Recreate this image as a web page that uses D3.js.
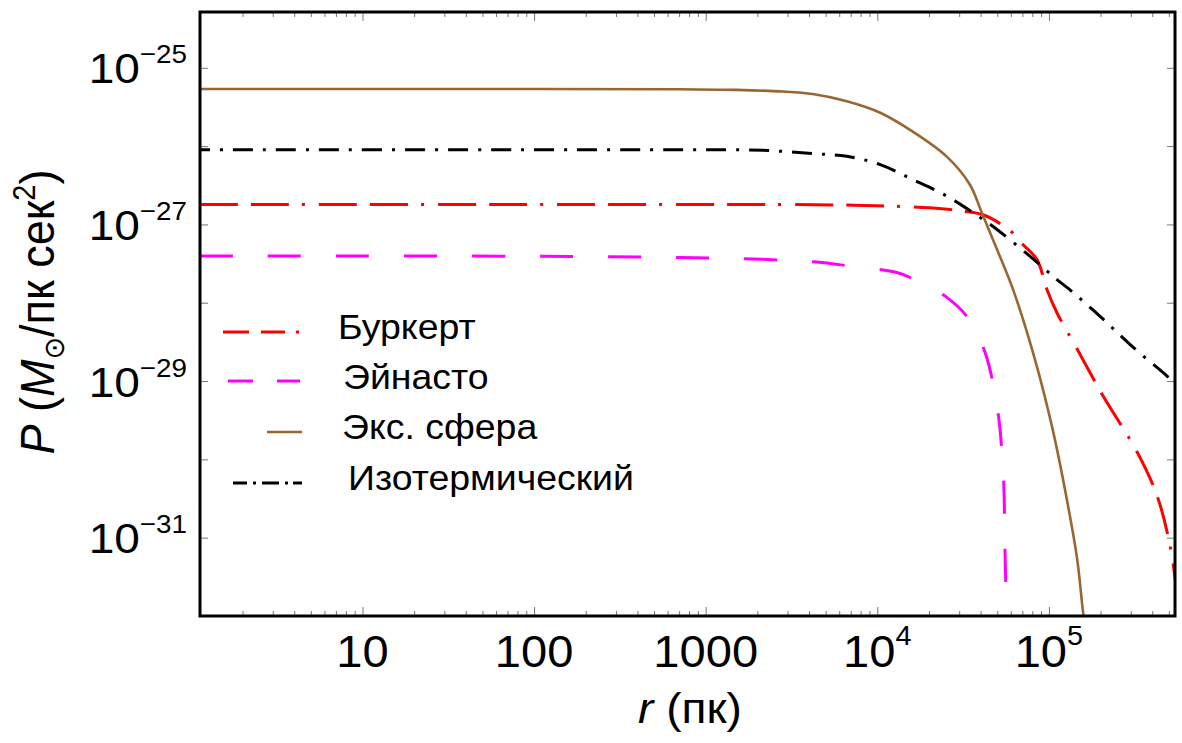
<!DOCTYPE html>
<html>
<head>
<meta charset="utf-8">
<script src="https://cdn.jsdelivr.net/npm/d3@7"></script>
<style>
  body { margin: 0; background: #fff; }
  svg { display: block; }
  text { font-family: "Liberation Sans", Arial, "DejaVu Sans", sans-serif; fill: #000; }
</style>
</head>
<body>
<svg id="chart" width="1182" height="743"></svg>
<script>
// ---- data: pressure profiles P(r) for four halo models ----
const rBurkert = [1.13, 100, 705, 2700, 8220, 2.02e4, 3.15e4, 4.24e4, 6.08e4, 7.05e4, 8.51e4, 9.73e4, 1.11e5, 1.46e5, 2.07e5, 3.26e5, 4.27e5, 5.08e5, 5.57e5];
const pBurkert = [1.80e-27, 1.80e-27, 1.80e-27, 1.80e-27, 1.75e-27, 1.63e-27, 1.48e-27, 1.30e-27, 8.0e-28, 5.56e-28, 3.58e-28, 1.49e-28, 7.57e-29, 2.56e-29, 6.44e-30, 1.25e-30, 3.43e-31, 7.91e-32, 2.05e-32];

const rEinasto = [1.13, 100, 705, 2150, 4440, 6920, 1.30e4, 1.61e4, 2.54e4, 3.46e4, 4.24e4, 4.71e4, 5.11e4, 5.32e4, 5.47e4, 5.53e4, 5.61e4, 5.65e4];
const pEinasto = [3.94e-28, 3.92e-28, 3.77e-28, 3.58e-28, 3.31e-28, 2.94e-28, 2.43e-28, 2.02e-28, 1.17e-28, 5.98e-29, 2.34e-29, 9.7e-30, 3.28e-30, 1.25e-30, 4.21e-31, 9.7e-32, 2.24e-32, 7e-33];

const rExpSphere = [1.13, 100, 705, 1500, 2800, 4200, 6640, 1.04e4, 1.61e4, 2.54e4, 3.46e4, 4.06e4, 4.98e4, 6.17e4, 8.28e4, 1.05e5, 1.27e5, 1.46e5, 1.58e5, 1.63e5];
const pExpSphere = [5.36e-26, 5.36e-26, 5.33e-26, 5.22e-26, 4.98e-26, 4.62e-26, 3.74e-26, 2.67e-26, 1.53e-26, 7.35e-27, 3.24e-27, 1.42e-27, 4.81e-28, 1.49e-28, 1.91e-29, 2.45e-30, 3.14e-31, 5.40e-32, 1.14e-32, 7e-33];

const rIsothermal = [1.13, 100, 705, 2150, 4200, 6640, 1.04e4, 1.61e4, 2.54e4, 3.6e4, 4.98e4, 7.74e4, 1.11e5, 1.38e5, 2.07e5, 3.09e5, 4.88e5, 5.6e5];
const pIsothermal = [9.0e-27, 9.0e-27, 9.0e-27, 8.83e-27, 8.02e-27, 7.41e-27, 5.81e-27, 3.74e-27, 2.30e-27, 1.42e-27, 8.63e-28, 3.94e-28, 1.99e-28, 1.36e-28, 6.17e-29, 2.71e-29, 1.16e-29, 8.8e-30];

const seriesNames = ["Буркерт", "Эйнасто", "Экс. сфера", "Изотермический"];

// axis ranges and tick labels
const rRange = [1.13, 5.43e5];
const pRange = [1e-32, 5.16e-25];
const xMajorTicks = [10, 100, 1000, 1e4, 1e5];
const xTickBase = ["10", "100", "1000", "10", "10"];
const xTickExp = ["", "", "", "4", "5"];
const yLabelTicks = [1e-25, 1e-27, 1e-29, 1e-31];
const yTickExp = ["\u221225", "\u221227", "\u221229", "\u221231"];
const yAllTicks = [1e-32, 1e-31, 1e-30, 1e-29, 1e-28, 1e-27, 1e-26, 1e-25];

// ---- layout ----
const svg = d3.select("#chart");
const plot = { left: 200, right: 1175, top: 12, bottom: 616 };
const textStretch = 1.07;   // glyphs are set slightly wide

const x = d3.scaleLog().domain(rRange).range([plot.left, plot.right]);
const y = d3.scaleLog().domain(pRange).range([plot.bottom, plot.top]);

svg.append("rect").attr("width", 1182).attr("height", 743).attr("fill", "#fff");

svg.append("defs").append("clipPath").attr("id", "plotClip")
  .append("rect")
  .attr("x", plot.left).attr("y", plot.top)
  .attr("width", plot.right - plot.left).attr("height", plot.bottom - plot.top);

// minor ticks on the r axis: 2..9 within each decade
const xMinorTicks = [];
for (let d = 0; d <= 5; d++) {
  for (let m = 2; m <= 9; m++) {
    const v = m * Math.pow(10, d);
    if (v > rRange[0] && v < rRange[1]) xMinorTicks.push(v);
  }
}

const tickColor = "#777";
function styleAxis(g) {
  g.select(".domain").remove();
  g.selectAll(".tick line").attr("stroke", tickColor).attr("stroke-width", 1);
  g.selectAll(".tick text").remove();
}

// frame ticks, all pointing inward
svg.append("g").attr("transform", `translate(0,${plot.bottom})`)
  .call(d3.axisBottom(x).tickValues(xMajorTicks).tickSize(-9)).call(styleAxis);
svg.append("g").attr("transform", `translate(0,${plot.bottom})`)
  .call(d3.axisBottom(x).tickValues(xMinorTicks).tickSize(-5)).call(styleAxis);
svg.append("g").attr("transform", `translate(0,${plot.top})`)
  .call(d3.axisTop(x).tickValues(xMajorTicks).tickSize(-9)).call(styleAxis);
svg.append("g").attr("transform", `translate(0,${plot.top})`)
  .call(d3.axisTop(x).tickValues(xMinorTicks).tickSize(-5)).call(styleAxis);
svg.append("g").attr("transform", `translate(${plot.left},0)`)
  .call(d3.axisLeft(y).tickValues(yAllTicks).tickSize(-8)).call(styleAxis);
svg.append("g").attr("transform", `translate(${plot.right},0)`)
  .call(d3.axisRight(y).tickValues(yAllTicks).tickSize(-8)).call(styleAxis);

// ---- curves ----
const line = d3.line()
  .x(d => x(d[0]))
  .y(d => y(d[1]))
  .curve(d3.curveCatmullRom.alpha(0.5));

const curves = [
  { r: rBurkert, p: pBurkert, color: "#ff0000", width: 3, dash: "38 13 38 13 3 14", offset: 0 },
  { r: rEinasto, p: pEinasto, color: "#ff00ff", width: 3, dash: "33 35", offset: 0 },
  { r: rExpSphere, p: pExpSphere, color: "#996633", width: 2.6, dash: null, offset: 0 },
  { r: rIsothermal, p: pIsothermal, color: "#000000", width: 3, dash: "20 10 3 10", offset: 10 }
];

const curveLayer = svg.append("g").attr("clip-path", "url(#plotClip)");
curves.forEach(c => {
  curveLayer.append("path")
    .datum(d3.zip(c.r, c.p))
    .attr("d", line)
    .attr("fill", "none")
    .attr("stroke", c.color)
    .attr("stroke-width", c.width)
    .attr("stroke-dasharray", c.dash)
    .attr("stroke-dashoffset", c.offset);
});

// frame
svg.append("rect")
  .attr("x", plot.left).attr("y", plot.top)
  .attr("width", plot.right - plot.left).attr("height", plot.bottom - plot.top)
  .attr("fill", "none").attr("stroke", "#000").attr("stroke-width", 3);

// text placed at (px, py) and widened horizontally by textStretch
function placeText(px, py, extra) {
  return svg.append("text")
    .attr("transform", `translate(${px},${py}) scale(${textStretch},1)` + (extra || ""));
}

// ---- tick labels ----
xMajorTicks.forEach((v, i) => {
  const t = placeText(x(v), 667)
    .attr("text-anchor", "middle")
    .attr("font-size", 44);
  t.append("tspan").text(xTickBase[i]);
  if (xTickExp[i]) {
    t.append("tspan").attr("font-size", 27).attr("dy", -22).text(xTickExp[i]);
  }
});

yLabelTicks.forEach((v, i) => {
  const t = placeText(187, y(v) + 15.5)
    .attr("text-anchor", "end")
    .attr("font-size", 43);
  t.append("tspan").text("10");
  t.append("tspan").attr("font-size", 26).attr("dy", -20).text(yTickExp[i]);
});

// ---- axis titles ----
const xt = placeText(690, 723)
  .attr("text-anchor", "middle")
  .attr("font-size", 43);
xt.append("tspan").attr("font-style", "italic").text("r");
xt.append("tspan").text(" (пк)");

const yt = placeText(54, 312, " rotate(-90)")
  .attr("text-anchor", "middle")
  .attr("font-size", 45);
yt.append("tspan").attr("font-style", "italic").text("P");
yt.append("tspan").text(" (");
yt.append("tspan").attr("font-style", "italic").text("M");
yt.append("tspan").attr("font-size", 27).attr("dy", 9).text("\u2299");
yt.append("tspan").attr("dy", -9).text("/пк сек");
yt.append("tspan").attr("font-size", 29).attr("dy", -18).text("2");
yt.append("tspan").attr("dy", 18).text(")");

// ---- legend ----
const legendRows = [
  { y: 332, x0: 223, dash: "26 12 24 11 3 100", color: "#ff0000", width: 3, tx: 338, ty: 339 },
  { y: 381, x0: 228, dash: "25 24 23 100", color: "#ff00ff", width: 3, tx: 343, ty: 389 },
  { y: 432, x0: 267, dash: null, color: "#996633", width: 2.6, tx: 342, ty: 439 },
  { y: 483, x0: 233, dash: "14 6 3 6 17 6 3 5 10 100", color: "#000000", width: 3, tx: 348, ty: 490 }
];
const legend = svg.append("g");
legendRows.forEach((row, i) => {
  legend.append("line")
    .attr("x1", row.x0).attr("x2", 302)
    .attr("y1", row.y).attr("y2", row.y)
    .attr("stroke", row.color)
    .attr("stroke-width", row.width)
    .attr("stroke-dasharray", row.dash);
  placeText(row.tx, row.ty)
    .attr("font-size", 35)
    .text(seriesNames[i]);
});
</script>
</body>
</html>
